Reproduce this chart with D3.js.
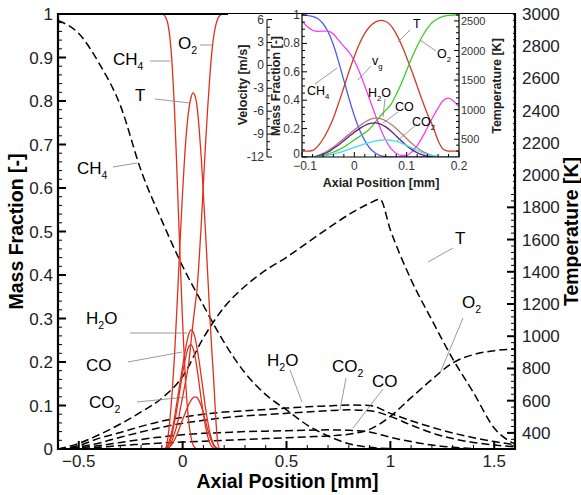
<!DOCTYPE html>
<html>
<head>
<meta charset="utf-8">
<script src="https://cdn.jsdelivr.net/npm/d3@7"></script>
<style>
  html, body { margin: 0; padding: 0; background: #fff; }
  svg { display: block; font-family: "Liberation Sans", Arial, sans-serif; }
  .leader { stroke: #808080; stroke-width: 0.8; fill: none; }
</style>
</head>
<body>
<svg id="chart" width="581" height="495"></svg>
<script>
// ============ Data: main (wide) profiles, dashed black ============
const mainX   = [-0.6,-0.5,-0.4,-0.3,-0.2,-0.1,0,0.1,0.2,0.3,0.4,0.5,0.6,0.7,0.8,0.9,1.0,1.1,1.2,1.3,1.4,1.5,1.6];
const mainCH4 = [0.985,0.955,0.885,0.79,0.64,0.525,0.42,0.33,0.245,0.175,0.125,0.09,0.055,0.03,0.012,0.004,0.001,0,0,0,0,0,0];
const mainH2O = [0,0.008,0.025,0.038,0.052,0.064,0.073,0.08,0.085,0.088,0.091,0.094,0.097,0.099,0.101,0.1,0.082,0.065,0.05,0.037,0.026,0.017,0.01];
const mainCO2 = [0,0.005,0.014,0.027,0.039,0.05,0.059,0.066,0.072,0.076,0.079,0.082,0.085,0.088,0.09,0.088,0.075,0.055,0.037,0.024,0.015,0.009,0.005];
const mainCO  = [0,0.003,0.008,0.015,0.022,0.028,0.033,0.036,0.038,0.04,0.041,0.042,0.043,0.044,0.043,0.039,0.027,0.017,0.009,0.004,0.001,0,0];
const mainO2  = [0,0.001,0.004,0.008,0.011,0.014,0.016,0.018,0.02,0.022,0.024,0.026,0.028,0.03,0.034,0.045,0.075,0.118,0.16,0.198,0.217,0.226,0.23];
const mainTX  = [-0.6,-0.5,-0.4,-0.3,-0.2,-0.1,0,0.1,0.2,0.3,0.4,0.5,0.6,0.7,0.8,0.9,0.95,1.0,1.1,1.2,1.3,1.4,1.5,1.6];
const mainT   = [300,335,390,455,530,615,750,990,1180,1310,1410,1490,1580,1670,1755,1825,1850,1660,1350,1100,860,650,430,330];

// ============ Data: narrow profiles (inset, and red lines in main) ============
const insX   = [-0.1,-0.09,-0.08,-0.07,-0.06,-0.05,-0.04,-0.03,-0.02,-0.01,0,0.01,0.02,0.03,0.04,0.05,0.06,0.07,0.08,0.09,0.1,0.11,0.12,0.13,0.14,0.15,0.16,0.17,0.18,0.19,0.2];
const insCH4 = [1.0,0.998,0.99,0.975,0.94,0.88,0.79,0.67,0.54,0.41,0.29,0.19,0.115,0.06,0.028,0.01,0.003,0,0,0,0,0,0,0,0,0,0,0,0,0,0];
const insO2  = [0,0,0,0.002,0.008,0.02,0.035,0.05,0.07,0.095,0.12,0.145,0.17,0.2,0.245,0.29,0.33,0.37,0.44,0.52,0.61,0.7,0.78,0.85,0.91,0.95,0.975,0.99,0.997,1.0,1.0];
const insT   = [300,300,310,380,500,660,860,1110,1380,1650,1900,2120,2290,2410,2480,2510,2490,2420,2280,2100,1880,1650,1400,1150,920,720,480,330,300,300,300];
const insH2O = [0,0,0.002,0.01,0.025,0.045,0.07,0.1,0.13,0.16,0.19,0.22,0.245,0.265,0.274,0.27,0.255,0.23,0.2,0.165,0.13,0.095,0.065,0.04,0.022,0.01,0.004,0.001,0,0,0];
const insCO  = [0,0,0.001,0.006,0.018,0.035,0.06,0.085,0.115,0.145,0.175,0.2,0.222,0.236,0.24,0.232,0.212,0.183,0.148,0.112,0.08,0.052,0.03,0.015,0.006,0.002,0,0,0,0,0];
const insCO2 = [0,0,0,0.002,0.006,0.012,0.02,0.03,0.042,0.055,0.068,0.08,0.092,0.103,0.112,0.118,0.12,0.118,0.11,0.098,0.082,0.064,0.046,0.03,0.017,0.008,0.003,0.001,0,0,0];
const insVel = [5.8,5.1,4.6,4.45,4.5,4.5,4.1,3.3,2.5,1.7,0.6,-0.9,-2.7,-4.6,-6.5,-8.3,-9.8,-10.9,-11.5,-11.8,-11.8,-11.3,-10.5,-9.4,-8.1,-6.8,-5.6,-4.6,-4.3,-4.7,-5.4];

// ============ Tick labels ============
const mfTicks   = [0,0.1,0.2,0.3,0.4,0.5,0.6,0.7,0.8,0.9,1];
const tempTicks = [400,600,800,1000,1200,1400,1600,1800,2000,2200,2400,2600,2800,3000];
const xTicks    = [-0.5,0,0.5,1,1.5];
const insXTicks = [-0.1,0,0.1,0.2];
const insMfTicks = [0,0.2,0.4,0.6,0.8,1];
const insVTicks = [-12,-9,-6,-3,0,3,6];
const insTTicks = [500,1000,1500,2000,2500];

// ============ Layout ============
const svg = d3.select("#chart");
const FONT = "'Liberation Sans', Arial, sans-serif";
const L = 58, R = 515, T = 14, B = 449;
const x  = d3.scaleLinear().domain([-0.6, 1.6]).range([L, R]);
const yL = d3.scaleLinear().domain([0, 1]).range([B, T]);
const yR = d3.scaleLinear().domain([300, 3000]).range([B, T]);

const IL = 302, IR = 459, IT = 14, IB = 157;
const ix  = d3.scaleLinear().domain([-0.1, 0.2]).range([IL, IR]);
const iy  = d3.scaleLinear().domain([0, 1]).range([IB, IT + 1]);
const iv  = d3.scaleLinear().domain([-12, 6.6]).range([IB, IT + 1]);
const iT  = d3.scaleLinear().domain([200, 2600]).range([IB, IT + 1]);

svg.append("rect").attr("width", 581).attr("height", 495).attr("fill", "#fff");

const clipMain = svg.append("clipPath").attr("id", "clipMain");
clipMain.append("rect").attr("x", L).attr("y", T).attr("width", R - L).attr("height", B - T);
const clipIns = svg.append("clipPath").attr("id", "clipIns");
clipIns.append("rect").attr("x", IL).attr("y", IT).attr("width", IR - IL).attr("height", IB - IT);

// ---- helpers ----
function series(xs, ys){ return xs.map((v, i) => [v, ys[i]]); }
function lineFn(sx, sy){
  return d3.line().x(d => sx(d[0])).y(d => sy(d[1])).curve(d3.curveMonotoneX);
}
function spec(g, px, py, base, sub, tail, fs){
  const t = g.append("text").attr("x", px).attr("y", py)
    .attr("font-size", fs).attr("font-family", FONT).attr("fill", "#000");
  t.append("tspan").text(base);
  if(sub){
    t.append("tspan").attr("font-size", fs * 0.62).attr("dy", fs * 0.28).text(sub);
    if(tail) t.append("tspan").attr("dy", -fs * 0.28).text(tail);
  }
  return t;
}
function leader(g, x1, y1, x2, y2){
  g.append("line").attr("class", "leader")
    .attr("x1", x1).attr("y1", y1).attr("x2", x2).attr("y2", y2);
}

// ============ Main plot lines ============
const mainG = svg.append("g").attr("clip-path", "url(#clipMain)");
const dash = "8,4";
[mainCH4, mainH2O, mainCO2, mainCO, mainO2].forEach(ys => {
  mainG.append("path").attr("d", lineFn(x, yL)(series(mainX, ys)))
    .attr("fill", "none").attr("stroke", "#000").attr("stroke-width", 1.5)
    .attr("stroke-dasharray", dash);
});
mainG.append("path").attr("d", lineFn(x, yR)(series(mainTX, mainT)))
  .attr("fill", "none").attr("stroke", "#000").attr("stroke-width", 1.5)
  .attr("stroke-dasharray", dash);

const RED = "#e0301e";
[insCH4, insO2, insH2O, insCO, insCO2].forEach(ys => {
  mainG.append("path").attr("d", lineFn(x, yL)(series(insX, ys)))
    .attr("fill", "none").attr("stroke", RED).attr("stroke-width", 1.3);
});
mainG.append("path").attr("d", lineFn(x, yR)(series(insX, insT)))
  .attr("fill", "none").attr("stroke", RED).attr("stroke-width", 1.3);

// ============ Main axes ============
const ax = svg.append("g");
// left ticks
d3.range(0, 1.0001, 0.02).forEach(v => {
  const major = Math.abs(v * 10 - Math.round(v * 10)) < 1e-6;
  ax.append("line").attr("x1", L).attr("x2", L + (major ? 8 : 4))
    .attr("y1", yL(v)).attr("y2", yL(v)).attr("stroke", "#000").attr("stroke-width", major ? 2 : 1);
});
mfTicks.forEach(v => {
  ax.append("text").attr("x", L - 5).attr("y", yL(v) + 6).attr("text-anchor", "end")
    .attr("font-size", 17).attr("font-family", FONT).attr("fill", "#222").text(d3.format("~g")(v));
});
// right ticks
d3.range(320, 3000.1, 40).forEach(v => {
  const major = v % 200 === 0;
  ax.append("line").attr("x1", R).attr("x2", R - (major ? 8 : 4))
    .attr("y1", yR(v)).attr("y2", yR(v)).attr("stroke", "#000").attr("stroke-width", major ? 2 : 1);
});
tempTicks.forEach(v => {
  ax.append("text").attr("x", R + 7).attr("y", yR(v) + 6).attr("text-anchor", "start")
    .attr("font-size", 17).attr("font-family", FONT).attr("fill", "#222").text(v);
});
// bottom ticks
d3.range(-0.5, 1.6001, 0.1).forEach(v => {
  const major = Math.abs(v * 2 - Math.round(v * 2)) < 1e-6;
  ax.append("line").attr("x1", x(v)).attr("x2", x(v))
    .attr("y1", B).attr("y2", B - (major ? 8 : 4)).attr("stroke", "#000").attr("stroke-width", major ? 2 : 1);
});
xTicks.forEach(v => {
  ax.append("text").attr("x", x(v)).attr("y", B + 18).attr("text-anchor", "middle")
    .attr("font-size", 17).attr("font-family", FONT).attr("fill", "#222").text(d3.format("~g")(v));
});
// frame
ax.append("path").attr("d", `M${L},${B}V${T}H${R}V${B}Z`)
  .attr("fill", "none").attr("stroke", "#000").attr("stroke-width", 2.2);

// titles
svg.append("text").attr("transform", `translate(23,${(T + B) / 2}) rotate(-90)`)
  .attr("text-anchor", "middle").attr("font-size", 19.5).attr("font-weight", "bold")
  .attr("font-family", FONT).text("Mass Fraction [-]");
svg.append("text").attr("x", (L + R) / 2 + 1).attr("y", 488)
  .attr("text-anchor", "middle").attr("font-size", 19.5).attr("font-weight", "bold")
  .attr("font-family", FONT).text("Axial Position [mm]");
svg.append("text").attr("transform", `translate(578,${(T + B) / 2}) rotate(-90)`)
  .attr("text-anchor", "middle").attr("font-size", 19.5).attr("font-weight", "bold")
  .attr("font-family", FONT).text("Temperature [K]");

// ============ Main labels ============
const lab = svg.append("g");
spec(lab, 178, 49, "O", "2", null, 17);            leader(lab, 200, 45, 213, 45);
spec(lab, 113, 65, "CH", "4", null, 17);           leader(lab, 150, 61, 170, 61);
spec(lab, 135, 101, "T", null, null, 17);          leader(lab, 155, 99, 190, 103);
spec(lab, 77, 174, "CH", "4", null, 17);           leader(lab, 113, 167, 137, 163);
spec(lab, 86, 324, "H", "2", "O", 17);             leader(lab, 130, 333, 187, 333);
spec(lab, 86, 371, "CO", null, null, 17);          leader(lab, 128, 362, 182, 352);
spec(lab, 89, 408, "CO", "2", null, 17);           leader(lab, 137, 402, 187, 397);
spec(lab, 267, 366, "H", "2", "O", 17);            leader(lab, 290, 370, 302, 402);
spec(lab, 332, 372, "CO", "2", null, 17);          leader(lab, 346, 378, 340, 410);
spec(lab, 372, 387, "CO", null, null, 17);         leader(lab, 383, 389, 353, 428);
spec(lab, 462, 308, "O", "2", null, 17);           leader(lab, 463, 318, 440, 373);
spec(lab, 455, 244, "T", null, null, 17);          leader(lab, 453, 248, 428, 262);

// ============ Inset ============
const ins = svg.append("g");
ins.append("rect").attr("x", 228).attr("y", IT).attr("width", R - 228 - 2).attr("height", 180)
  .attr("fill", "#fff");

const insG = ins.append("g").attr("clip-path", "url(#clipIns)");
const insLines = [
  { ys: insCH4, sy: iy, color: "#4f5cf0" },
  { ys: insVel, sy: iv, color: "#f040f0" },
  { ys: insT,   sy: iT, color: "#d03a26" },
  { ys: insO2,  sy: iy, color: "#3ccc2a" },
  { ys: insH2O, sy: iy, color: "#b87878" },
  { ys: insCO,  sy: iy, color: "#602078" },
  { ys: insCO2, sy: iy, color: "#40e0f0" }
];
insLines.forEach(s => {
  insG.append("path").attr("d", lineFn(ix, s.sy)(series(insX, s.ys)))
    .attr("fill", "none").attr("stroke", s.color).attr("stroke-width", 1.3);
});

// inset axes
const VX = 267;
d3.range(0, 1.0001, 0.05).forEach(v => {
  const major = Math.abs(v * 5 - Math.round(v * 5)) < 1e-6;
  ins.append("line").attr("x1", IL).attr("x2", IL + (major ? 5 : 3))
    .attr("y1", iy(v)).attr("y2", iy(v)).attr("stroke", "#000").attr("stroke-width", 1);
});
insMfTicks.forEach(v => {
  ins.append("text").attr("x", IL - 2).attr("y", iy(v) + (v === 0 ? 1 : 4)).attr("text-anchor", "end")
    .attr("font-size", 12).attr("font-family", FONT).attr("fill", "#333").text(d3.format("~g")(v));
});
d3.range(-12, 6.01, 1).forEach(v => {
  const major = v % 3 === 0;
  ins.append("line").attr("x1", VX).attr("x2", VX + (major ? 5 : 3))
    .attr("y1", iv(v)).attr("y2", iv(v)).attr("stroke", "#000").attr("stroke-width", 1);
});
insVTicks.forEach(v => {
  ins.append("text").attr("x", VX - 3).attr("y", iv(v) + 4).attr("text-anchor", "end")
    .attr("font-size", 12).attr("font-family", FONT).attr("fill", "#333").text(v);
});
ins.append("line").attr("x1", VX).attr("x2", VX).attr("y1", iv(-12)).attr("y2", iv(6))
  .attr("stroke", "#000").attr("stroke-width", 1);
d3.range(300, 2600.1, 100).forEach(v => {
  const major = v % 500 === 0;
  ins.append("line").attr("x1", IR).attr("x2", IR - (major ? 5 : 3))
    .attr("y1", iT(v)).attr("y2", iT(v)).attr("stroke", "#000").attr("stroke-width", 1);
});
insTTicks.forEach(v => {
  ins.append("text").attr("x", IR + 2).attr("y", iT(v) + 4).attr("text-anchor", "start")
    .attr("font-size", 11).attr("font-family", FONT).attr("fill", "#333").text(v);
});
d3.range(-0.1, 0.2001, 0.02).forEach(v => {
  const major = Math.abs(v * 10 - Math.round(v * 10)) < 1e-6;
  ins.append("line").attr("x1", ix(v)).attr("x2", ix(v))
    .attr("y1", IB).attr("y2", IB - (major ? 5 : 3)).attr("stroke", "#000").attr("stroke-width", 1);
});
insXTicks.forEach(v => {
  ins.append("text").attr("x", ix(v) + (v === -0.1 ? 3 : 0)).attr("y", IB + 13).attr("text-anchor", "middle")
    .attr("font-size", 12).attr("font-family", FONT).attr("fill", "#333").text(d3.format("~g")(v));
});
ins.append("path").attr("d", `M${IL},${IT}V${IB}H${IR}V${IT}`)
  .attr("fill", "none").attr("stroke", "#000").attr("stroke-width", 1.2);

// inset titles
ins.append("text").attr("transform", `translate(247,85) rotate(-90)`)
  .attr("text-anchor", "middle").attr("font-size", 12.5).attr("font-weight", "bold")
  .attr("font-family", FONT).attr("fill", "#222").text("Velocity [m/s]");
ins.append("text").attr("transform", `translate(280,86) rotate(-90)`)
  .attr("text-anchor", "middle").attr("font-size", 12.5).attr("font-weight", "bold")
  .attr("font-family", FONT).attr("fill", "#222").text("Mass Fraction [-]");
ins.append("text").attr("transform", `translate(501,86) rotate(-90)`)
  .attr("text-anchor", "middle").attr("font-size", 12.5).attr("font-weight", "bold")
  .attr("font-family", FONT).attr("fill", "#222").text("Temperature [K]");
ins.append("text").attr("x", 381).attr("y", 187)
  .attr("text-anchor", "middle").attr("font-size", 12.5).attr("font-weight", "bold")
  .attr("font-family", FONT).attr("fill", "#222").text("Axial Position [mm]");

// inset labels
spec(ins, 413, 28, "T", null, null, 12.5);          leader(ins, 410, 30, 398, 42);
spec(ins, 437, 58, "O", "2", null, 12.5);           leader(ins, 436, 51, 420, 40);
spec(ins, 372, 65, "v", "g", null, 12.5);           leader(ins, 371, 66, 358, 80);
spec(ins, 307, 95, "CH", "4", null, 12.5);          leader(ins, 315, 84, 337, 68);
spec(ins, 368, 97, "H", "2", "O", 12.5);            leader(ins, 385, 99, 383, 117);
spec(ins, 395, 111, "CO", null, null, 12.5);        leader(ins, 398, 112, 383, 123);
spec(ins, 412, 126, "CO", "2", null, 12.5);         leader(ins, 417, 124, 397, 141);
</script>
</body>
</html>
